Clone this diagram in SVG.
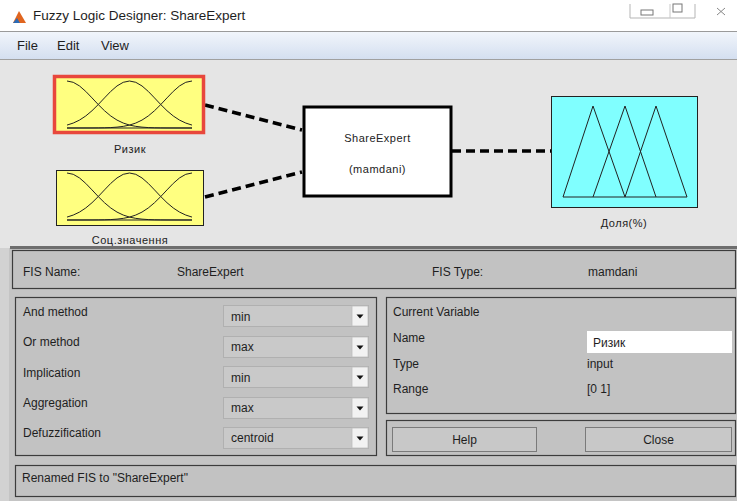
<svg xmlns="http://www.w3.org/2000/svg" width="737" height="501" viewBox="0 0 737 501">
<style>
.ui{font-family:"Liberation Sans",Arial,sans-serif;fill:#1e1e1e}
.lbl{font-size:12px}
.nl{font-size:11px;letter-spacing:0.5px;text-anchor:middle;fill:#222}
.panel{fill:#c2c2c2;stroke:#3c3c3c;stroke-width:1.2}
.dd{fill:#c9c9c9;stroke:#b0b0b0;stroke-width:1}
.ddb{fill:#f2f2f2;stroke:#bdbdbd;stroke-width:0.8}
.btn{fill:#c8c8c8;stroke:#7a7a7a;stroke-width:1}
.mf{fill:none;stroke:#222;stroke-width:1}
.conn{fill:none;stroke:#000;stroke-width:3.5;stroke-dasharray:9 5}
</style>
<defs>
<linearGradient id="menuG" x1="0" y1="0" x2="0" y2="1">
<stop offset="0" stop-color="#f1f5fb"/><stop offset="1" stop-color="#d4dff0"/>
</linearGradient>
<g id="gauss3">
<polyline class="mf" points="0,-47 6.25,-45.7 12.5,-42.05 18.75,-36.6 25,-30.1 31.25,-23.45 37.5,-17.27 43.75,-12.03 50,-7.92 56.25,-4.94 62.5,-2.91 68.75,-1.63 75,-0.86 81.25,-0.43 87.5,-0.2 93.75,-0.09 100,-0.04 125,0"/>
<polyline class="mf" points="0,-2.91 6.25,-4.94 12.5,-7.92 18.75,-12.03 25,-17.27 31.25,-23.45 37.5,-30.1 43.75,-36.6 50,-42.05 56.25,-45.7 62.5,-47 68.75,-45.7 75,-42.05 81.25,-36.6 87.5,-30.1 93.75,-23.45 100,-17.27 106.25,-12.03 112.5,-7.92 118.75,-4.94 125,-2.91"/>
<polyline class="mf" points="0,0 25,-0.04 31.25,-0.09 37.5,-0.2 43.75,-0.43 50,-0.86 56.25,-1.63 62.5,-2.91 68.75,-4.94 75,-7.92 81.25,-12.03 87.5,-17.27 93.75,-23.45 100,-30.1 106.25,-36.6 112.5,-42.05 118.75,-45.7 125,-47"/>
<line class="mf" x1="0" y1="0" x2="125" y2="0"/>
</g>
<path id="arrow" d="M-3.5,-1.5 L3.5,-1.5 L0,2.5 Z" fill="#111"/>
</defs>

<!-- window chrome -->
<rect x="0" y="0" width="737" height="31" fill="#ffffff"/>
<polygon points="13,23 19,11 26,23" fill="#e0651f"/>
<polygon points="13,23 17,18 20,23" fill="#2c6bb5"/>
<text class="ui" x="33" y="20" font-size="13.5px">Fuzzy Logic Designer: ShareExpert</text>
<path d="M630,4 L630,18 L695,18 L695,4" fill="none" stroke="#b5b5b5" stroke-width="1"/>
<line x1="670" y1="4" x2="670" y2="18" stroke="#c8c8c8"/>
<rect x="641" y="10" width="12" height="5" fill="none" stroke="#777" stroke-width="1"/>
<rect x="673" y="4" width="9" height="8" fill="none" stroke="#777" stroke-width="1"/>
<path d="M717,8 L725,15 M725,8 L717,15" stroke="#888" stroke-width="1" fill="none"/>
<line x1="0" y1="31.5" x2="737" y2="31.5" stroke="#9a9a9a"/>
<rect x="0" y="32" width="737" height="27" fill="url(#menuG)"/>
<text class="ui" x="17" y="50" font-size="13px">File</text>
<text class="ui" x="57" y="50" font-size="13px">Edit</text>
<text class="ui" x="101" y="50" font-size="13px">View</text>
<line x1="0" y1="59.5" x2="737" y2="59.5" stroke="#a0a0a0"/>

<!-- diagram area -->
<rect x="0" y="60" width="737" height="188" fill="#e5e5e5"/>

<g id="connectors">
<line class="conn" x1="205" y1="105" x2="302" y2="130"/>
<line class="conn" x1="205" y1="197" x2="302" y2="172"/>
<line class="conn" x1="452" y1="151" x2="551" y2="151"/>
</g>

<g id="input-rizyk">
<rect x="54.5" y="76.5" width="149" height="56" fill="#ffff80" stroke="#e8473c" stroke-width="3.5"/>
<use href="#gauss3" x="67" y="128"/>
<text class="ui nl" x="130" y="153">Ризик</text>
</g>

<g id="input-socznach">
<rect x="56.5" y="170.5" width="147" height="55" fill="#ffff80" stroke="#222" stroke-width="1"/>
<use href="#gauss3" x="67" y="220"/>
<text class="ui nl" x="130" y="244">Соц.значення</text>
</g>

<g id="fis-shareexpert">
<rect x="304" y="107" width="147" height="89" fill="#ffffff" stroke="#000" stroke-width="3"/>
<text class="ui nl" x="377.5" y="142" font-size="11.5px">ShareExpert</text>
<text class="ui nl" x="377.5" y="173" font-size="11.5px">(mamdani)</text>
</g>

<g id="output-dolya">
<rect x="551.5" y="96.5" width="146" height="111" fill="#80ffff" stroke="#222" stroke-width="1"/>
<polyline class="mf" points="563,197 593,106 625,197"/>
<polyline class="mf" points="593,197 625,106 656,197"/>
<polyline class="mf" points="625,197 656,106 687,197"/>
<line class="mf" x1="563" y1="197" x2="687" y2="197"/>
<text class="ui nl" x="624" y="227">Доля(%)</text>
</g>

<!-- bottom panel -->
<rect x="0" y="248" width="737" height="253" fill="#c4c4c4"/>
<rect x="0" y="248" width="9" height="253" fill="#d2d2d2"/>
<line x1="10" y1="247.5" x2="737" y2="247.5" stroke="#6e6e6e" stroke-width="3"/>

<rect class="panel" x="12.5" y="250.5" width="723" height="38"/>
<text class="ui lbl" x="23" y="276">FIS Name:</text>
<text class="ui lbl" x="177" y="276">ShareExpert</text>
<text class="ui lbl" x="432" y="276">FIS Type:</text>
<text class="ui lbl" x="588" y="276">mamdani</text>

<rect class="panel" x="15.5" y="297.5" width="361" height="158"/>
<text class="ui lbl" x="23" y="316">And method</text>
<text class="ui lbl" x="23" y="346">Or method</text>
<text class="ui lbl" x="23" y="377">Implication</text>
<text class="ui lbl" x="23" y="407">Aggregation</text>
<text class="ui lbl" x="23" y="437">Defuzzification</text>

<rect class="dd" x="223.5" y="305.5" width="145" height="21"/>
<rect class="ddb" x="352" y="306" width="16" height="20"/>
<use href="#arrow" x="360" y="316"/>
<text class="ui lbl" x="231" y="321">min</text>

<rect class="dd" x="223.5" y="336.5" width="145" height="21"/>
<rect class="ddb" x="352" y="337" width="16" height="20"/>
<use href="#arrow" x="360" y="347"/>
<text class="ui lbl" x="231" y="351">max</text>

<rect class="dd" x="223.5" y="366.5" width="145" height="21"/>
<rect class="ddb" x="352" y="367" width="16" height="20"/>
<use href="#arrow" x="360" y="377"/>
<text class="ui lbl" x="231" y="382">min</text>

<rect class="dd" x="223.5" y="397.5" width="145" height="21"/>
<rect class="ddb" x="352" y="398" width="16" height="20"/>
<use href="#arrow" x="360" y="408"/>
<text class="ui lbl" x="231" y="412">max</text>

<rect class="dd" x="223.5" y="427.5" width="145" height="21"/>
<rect class="ddb" x="352" y="428" width="16" height="20"/>
<use href="#arrow" x="360" y="438"/>
<text class="ui lbl" x="231" y="442">centroid</text>

<rect class="panel" x="386.5" y="297.5" width="349" height="116"/>
<text class="ui lbl" x="393" y="316">Current Variable</text>
<text class="ui lbl" x="393" y="342">Name</text>
<rect x="587" y="331" width="145" height="22" fill="#ffffff"/>
<text class="ui lbl" x="593" y="347">Ризик</text>
<text class="ui lbl" x="393" y="368">Type</text>
<text class="ui lbl" x="587" y="368">input</text>
<text class="ui lbl" x="393" y="393">Range</text>
<text class="ui lbl" x="587" y="393">[0 1]</text>

<rect class="panel" x="386.5" y="420.5" width="349" height="35"/>
<rect class="btn" x="392.5" y="427.5" width="144" height="24"/>
<text class="ui lbl" x="464.5" y="444" text-anchor="middle">Help</text>
<rect class="btn" x="585.5" y="427.5" width="146" height="24"/>
<text class="ui lbl" x="658.5" y="444" text-anchor="middle">Close</text>

<rect class="panel" x="15.5" y="465.5" width="720" height="31"/>
<text class="ui lbl" x="22" y="482">Renamed FIS to "ShareExpert"</text>
</svg>
